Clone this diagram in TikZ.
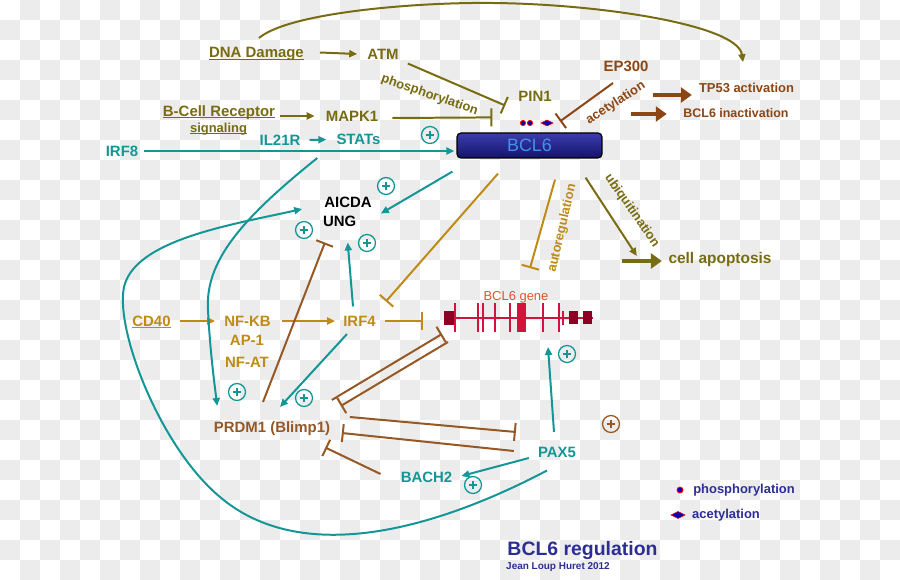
\documentclass[tikz,border=0pt]{standalone}
\usepackage{fontspec}
\setmainfont{Liberation Sans}
\usetikzlibrary{arrows.meta}
\definecolor{olivec}{RGB}{120,108,18}
\definecolor{goldc}{RGB}{190,140,20}
\definecolor{brownc}{RGB}{150,88,36}
\definecolor{epbrown}{RGB}{140,70,20}
\definecolor{tealc}{RGB}{20,150,150}
\definecolor{navyc}{RGB}{45,45,150}
\definecolor{crimc}{RGB}{210,20,60}
\definecolor{darkredc}{RGB}{140,0,35}
\definecolor{bgc}{RGB}{236,236,236}
\definecolor{boxtop}{RGB}{60,60,175}
\definecolor{boxbot}{RGB}{20,20,105}
\definecolor{boxtext}{RGB}{70,145,235}
\newcommand\ulbl[1]{\setbox0\hbox{#1}\rlap{\rule[-2pt]{\wd0}{1.2pt}}\box0}

\begin{document}
\begin{tikzpicture}[x=1bp,y=-1bp,
  lbl/.style={font=\bfseries\fontsize{15}{17}\selectfont,inner sep=1pt,text height=10.7pt,text depth=0pt},
  smalllbl/.style={font=\bfseries\fontsize{13}{15}\selectfont,inner sep=1pt,text height=9.3pt,text depth=0pt},
  actarr/.style={line width=2pt,-{Triangle[length=8pt,width=7pt]}},
  inharr/.style={line width=2pt,-{Bar[width=18pt]}},
  fatarr/.style={line width=5pt,-{Triangle[length=11pt,width=15pt]}},
  pluscirc/.style={circle,draw=#1,line width=1.3pt,minimum size=17pt,inner sep=0pt,
    path picture={\draw[#1,line width=1.6pt]
      ([xshift=-4.5pt]path picture bounding box.center) -- ([xshift=4.5pt]path picture bounding box.center)
      ([yshift=-4.5pt]path picture bounding box.center) -- ([yshift=4.5pt]path picture bounding box.center);}},
  pluscirc/.default=tealc]
\useasboundingbox (0,0) rectangle (900,580);
\fill[white] (0,0) rectangle (900,580);
\foreach \j in {0,...,28}{
  \foreach \i in {0,...,44}{
    \ifodd\numexpr\i+\j\relax \fill[bgc] (20*\i,20*\j) rectangle ++(20,20); \fi
  }
}

\node[lbl,olivec] (dna) at (256.5,52.5) {\ulbl{DNA Damage}};
\node[lbl,olivec] (atm) at (383,54) {ATM};
\node[lbl,olivec] (bcr) at (219,111) {\ulbl{B-Cell Receptor}};
\node[smalllbl,olivec] (sig) at (218.5,127.5) {\ulbl{signaling}};
\node[lbl,olivec] (mapk) at (352,116) {MAPK1};
\node[lbl,tealc] (il21r) at (280,140) {IL21R};
\node[lbl,tealc] (stats) at (358.5,139.5) {STATs};
\node[lbl,tealc] (irf8) at (122,151) {IRF8};
\node[lbl,olivec] (pin) at (535,96) {PIN1};
\node[lbl,epbrown] (ep) at (626,66) {EP300};
\node[smalllbl,epbrown] (tp53) at (746.5,88) {TP53 activation};
\node[smalllbl,epbrown,font=\bfseries\fontsize{12.5}{15}\selectfont] (bclinact) at (736,113) {BCL6 inactivation};
\node[draw=black,line width=1.2pt,rounded corners=4pt,top color=boxtop,bottom color=boxbot,
  minimum width=145bp,minimum height=25bp,font=\fontsize{18}{20}\selectfont,text=boxtext] (bcl6) at (529.5,145.5) {BCL6};
\node[lbl,black] (aicda) at (348,202) {AICDA};
\node[lbl,black] (ung) at (339.7,221) {UNG};
\node[lbl,goldc] (cd40) at (151.5,321) {\ulbl{CD40}};
\node[lbl,goldc] (nfkb) at (247.5,321) {NF-KB};
\node[lbl,goldc] (ap1) at (247,340) {AP-1};
\node[lbl,goldc] (nfat) at (247,362) {NF-AT};
\node[lbl,goldc] (irf4) at (359.5,321) {IRF4};
\node[lbl,olivec,font=\bfseries\fontsize{15.5}{17}\selectfont] (apop) at (720,258) {cell apoptosis};
\node[inner sep=1pt,text height=9.3pt,text depth=0pt,font=\fontsize{13}{15}\selectfont,text={rgb,255:red,225;green,80;blue,50}] (genelbl) at (516,296) {BCL6 gene};
\node[lbl,brownc] (prdm) at (272,427) {PRDM1 (Blimp1)};
\node[lbl,tealc] (bach) at (426.5,477) {BACH2};
\node[lbl,tealc] (pax) at (557,452) {PAX5};

\node[smalllbl,olivec,rotate=-19] (phoslbl) at (430,94) {phosphorylation};
\node[smalllbl,epbrown,rotate=33] (acetlbl) at (615,102) {acetylation};
\node[smalllbl,goldc,rotate=77] (autolbl) at (561,228) {autoregulation};
\node[smalllbl,olivec,rotate=-55] (ubiqlbl) at (633,210) {ubiquitination};

\node[pluscirc] (p1) at (430,135) {};
\node[pluscirc] (p2) at (386,186) {};
\node[pluscirc] (p3) at (304,230) {};
\node[pluscirc] (p4) at (367,243) {};
\node[pluscirc] (p5) at (237,392) {};
\node[pluscirc] (p6) at (304,398) {};
\node[pluscirc] (p7) at (567,354) {};
\node[pluscirc] (p8) at (473,485) {};
\node[pluscirc=brownc] (p9) at (611,424) {};

\coordinate (genel) at (444,318);
\draw[crimc,line width=2pt] (genel) -- (593,318);
\fill[darkredc] (444,311) rectangle (455,325);
\foreach \gx in {455,478,483,495,510,543,559}
  \draw[crimc,line width=2pt] (\gx,303) -- (\gx,332);
\draw[crimc,line width=1.5pt] (563,311) -- (563,325);
\fill[crimc] (517,303) rectangle (526,332);
\fill[darkredc] (569,311) rectangle (578,324);
\fill[darkredc] (583,311) rectangle (592,324);

\filldraw[draw=red,fill=blue!70!black,line width=0.8pt] (523,123) circle (2.6) (530,123) circle (2.6);
\filldraw[draw=red,fill=blue!70!black,line width=0.6pt] (541,123) -- (547,120) -- (553,123) -- (547,126) -- cycle;

\draw[olivec,line width=2pt,-{Triangle[length=8pt,width=7pt]}] ([shift={(2.5,-8)}]dna.north)
  .. controls (290,12) and (420,2) .. (493,3) .. controls (600,4) and (738,25) .. ([shift={(-3.5,-20)}]tp53.north);
\draw[actarr,olivec] ([xshift=15]dna.east) -- ([xshift=-9]atm.west);
\draw[inharr,olivec] ([shift={(8,3)}]atm.south east) -- ([shift={(-12,3)}]pin.south west);
\draw[actarr,olivec] ([shift={(4,5)}]bcr.east) -- ([xshift=-10]mapk.west);
\draw[inharr,olivec] ([shift={(13,2)}]mapk.east) -- ([shift={(36,-15)}]bcl6.north west);
\draw[actarr,tealc] ([xshift=8]il21r.east) -- ([xshift=-9]stats.west);
\draw[actarr,tealc] ([xshift=5]irf8.east) -- ([xshift=-2]irf8.east -| bcl6.west);
\draw[inharr,epbrown] ([shift={(-13,10.5)}]ep.south) -- ([shift={(30.5,-11)}]bcl6.north);
\draw[fatarr,epbrown] ([shift={(-45,7)}]tp53.west) -- ([shift={(-6,7)}]tp53.west);
\draw[fatarr,epbrown] ([shift={(-51.5,1)}]bclinact.west) -- ([shift={(-15.5,1)}]bclinact.west);

\draw[actarr,tealc] ([shift={(-4,13)}]bcl6.south west) -- ([shift={(8,5)}]aicda.south east);
\draw[inharr,goldc] ([shift={(-31.5,15)}]bcl6.south) -- ([shift={(9,-13)}]irf4.north east);
\draw[inharr,goldc] ([shift={(25.5,21)}]bcl6.south) -- ([shift={(14,-22)}]genelbl.north);
\draw[actarr,olivec] ([shift={(-17,19)}]bcl6.south east) -- ([shift={(-30.5,-2)}]apop.west);
\draw[fatarr,olivec] ([shift={(-45.5,3)}]apop.west) -- ([shift={(-5.5,3)}]apop.west);

\draw[actarr,goldc] ([xshift=8]cd40.east) -- ([xshift=-8]nfkb.west);
\draw[actarr,goldc] ([xshift=10]nfkb.east) -- ([xshift=-7]irf4.west);
\draw[inharr,goldc] ([xshift=8]irf4.east) -- ([xshift=-21]irf4.east -| genel);
\draw[actarr,tealc] ([shift={(-6.5,-8)}]irf4.north) -- ([shift={(8,15)}]ung.south);
\draw[actarr,tealc] ([shift={(-12.5,6.5)}]irf4.south) -- ([shift={(8,-13.5)}]prdm.north);
\draw[inharr,brownc] ([shift={(-9,-18.5)}]prdm.north) -- ([shift={(3,15)}]ung.south west);

\draw[actarr,tealc] ([shift={(-18,12)}]stats.south west) .. controls (240,220) and (205,262) .. (208,310)
  .. controls (210,350) and (214,380) .. ([shift={(4.5,-14.5)}]prdm.north west);
\draw[actarr,tealc] ([shift={(-10,12)}]pax.south) .. controls (430,532) and (300,565) .. (220,497)
  .. controls (160,447) and (115,330) .. (124,287) .. controls (135,240) and (230,225) .. ([shift={(-21,7)}]aicda.west);

\draw[inharr,brownc] ([shift={(0.5,-20.5)}]prdm.north east) -- ([shift={(-2,16)}]genel);
\draw[inharr,brownc] ([shift={(4,24)}]genel) -- ([shift={(9.5,-14.5)}]prdm.north east);
\draw[inharr,brownc] ([shift={(18.5,-10)}]prdm.east) -- ([shift={(-21,-20)}]pax.west);
\draw[inharr,brownc] ([shift={(-23,-1)}]pax.west) -- ([shift={(10.5,6)}]prdm.east);
\draw[inharr,brownc] ([shift={(-19,-3)}]bach.west) -- ([shift={(-6,14)}]prdm.south east);
\draw[actarr,tealc] ([shift={(-8,6)}]pax.west) -- ([shift={(8,-1)}]bach.east);
\draw[actarr,tealc] ([shift={(-3,-13.5)}]pax.north) -- ([shift={(104,29)}]genel);

\filldraw[draw=red,fill=blue!70!black,line width=0.8pt] (680,490) circle (3);
\filldraw[draw=red,fill=blue!70!black,line width=0.6pt] (671,515) -- (678,511.5) -- (685,515) -- (678,518.5) -- cycle;
\node[smalllbl,navyc] (legphos) at (744,489) {phosphorylation};
\node[smalllbl,navyc] (legacet) at (726,514) {acetylation};
\node[font=\bfseries\fontsize{19.5}{22}\selectfont,navyc,inner sep=1pt,text height=14pt,text depth=0pt] (title) at (582.5,548.5) {BCL6 regulation};
\node[font=\bfseries\fontsize{10}{12}\selectfont,navyc,inner sep=1pt,text height=7.2pt,text depth=0pt] (credit) at (558,566) {Jean Loup Huret 2012};
\end{tikzpicture}
\end{document}
